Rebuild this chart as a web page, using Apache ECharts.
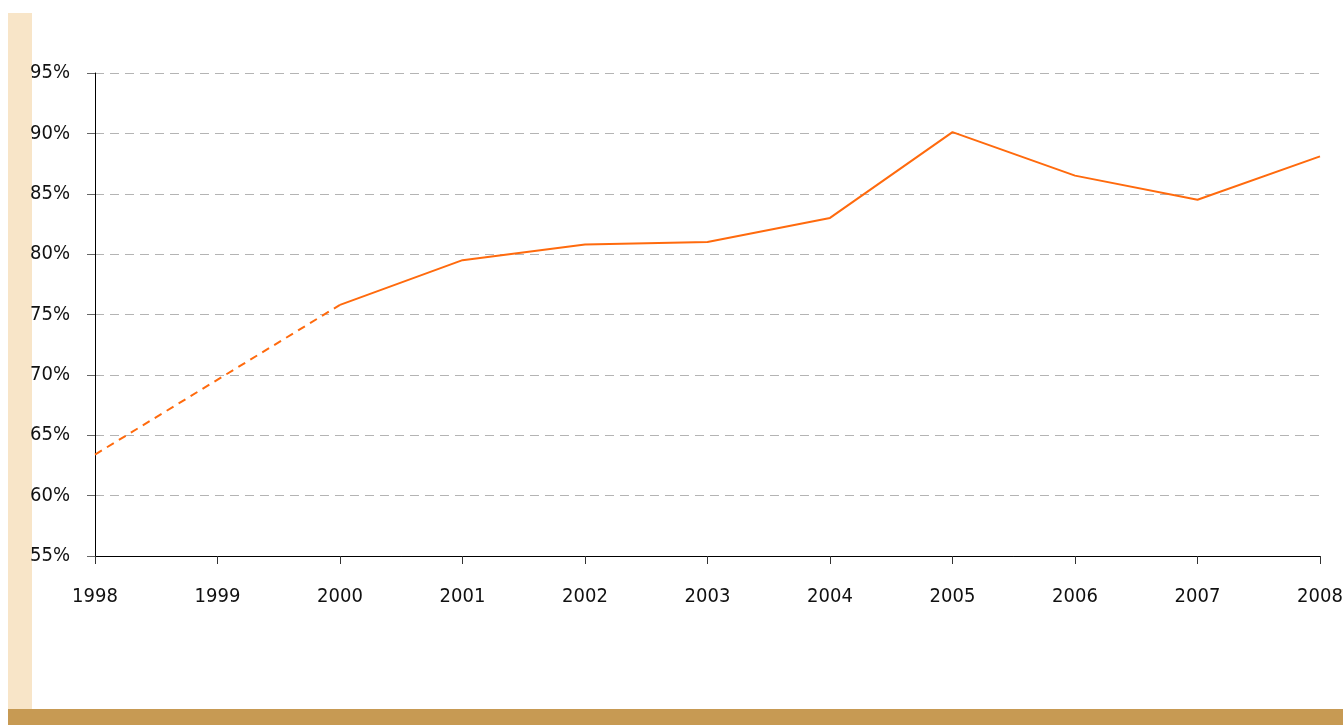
<!DOCTYPE html>
<html>
<head>
<meta charset="utf-8">
<script src="https://cdn.jsdelivr.net/npm/echarts@6/dist/echarts.min.js"></script>
<style>
html,body{margin:0;padding:0;background:#fff;overflow:hidden;}
#c{width:1343px;height:725px;}
</style>
</head>
<body>
<div id="c"></div>
<script>
var years = ['1998','1999','2000','2001','2002','2003','2004','2005','2006','2007','2008'];
var solidValues = [null, null, 75.8, 79.5, 80.8, 81.0, 83.0, 90.1, 86.5, 84.5, 88.1];
var dashedValues = [63.4, null, 75.8, null, null, null, null, null, null, null, null];
var yTicks = [55, 60, 65, 70, 75, 80, 85, 90, 95];

var FONT = '"DejaVu Sans Condensed", "Liberation Sans Narrow", "DejaVu Sans", sans-serif';
var chart = echarts.init(document.getElementById('c'));
chart.setOption({
  animation: false,
  backgroundColor: '#fff',
  graphic: [
    {type:'rect', shape:{x:8,y:13,width:24,height:696}, style:{fill:'#F8E5C8'}, silent:true},
    {type:'rect', shape:{x:8,y:709,width:1335,height:16}, style:{fill:'#C79A53'}, silent:true}
  ],
  grid: {left:95, right:23, top:73, bottom:169, containLabel:false, outerBoundsMode:'none'},
  xAxis: {
    type:'category', data: years, boundaryGap:false,
    axisLine:{show:true, lineStyle:{color:'#000', width:1}},
    axisTick:{show:true, length:8, alignWithLabel:true, lineStyle:{color:'#333'}},
    axisLabel:{color:'#111', fontFamily:FONT, fontSize:20, margin:31},
  },
  yAxis: {
    type:'value', min:55, max:95, interval:5,
    axisLine:{show:true, lineStyle:{color:'#000', width:1}},
    axisTick:{show:true, length:8, lineStyle:{color:'#666'}},
    axisLabel:{color:'#111', fontFamily:FONT, fontSize:20, margin:25,
      formatter:function(v){return v+'%';}},
    splitLine:{show:true, lineStyle:{color:'#b4b4b4', type:[9,6], width:1}}
  },
  series: [
    {type:'line', data: dashedValues, connectNulls:true, symbol:'none',
     lineStyle:{color:'#FF6A0D', width:2, type:[8,6]}, z:3},
    {type:'line', data: solidValues, symbol:'none',
     lineStyle:{color:'#FF6A0D', width:2}, z:4}
  ]
});
</script>
</body>
</html>
